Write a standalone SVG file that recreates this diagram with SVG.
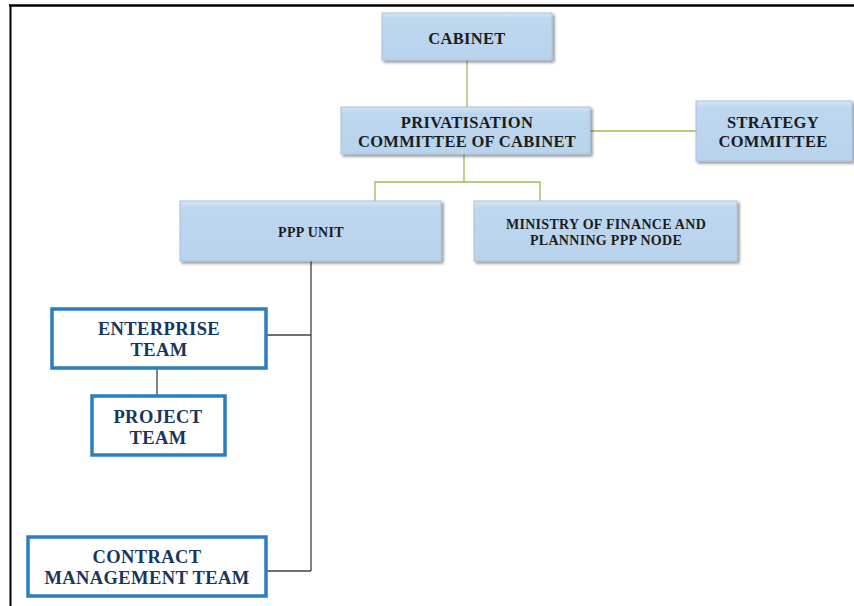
<svg xmlns="http://www.w3.org/2000/svg" width="854" height="606" viewBox="0 0 854 606">
<defs>
<linearGradient id="bg" x1="0" y1="0" x2="0" y2="1">
<stop offset="0" stop-color="#d6e6f6"/>
<stop offset="0.12" stop-color="#bdd7ef"/>
<stop offset="1" stop-color="#b8d3ec"/>
</linearGradient>
<filter id="sh" x="-10%" y="-10%" width="120%" height="130%">
<feGaussianBlur in="SourceAlpha" stdDeviation="1.5"/>
<feOffset dx="1.5" dy="2" result="o"/>
<feComponentTransfer><feFuncA type="linear" slope="0.45"/></feComponentTransfer>
<feMerge><feMergeNode/><feMergeNode in="SourceGraphic"/></feMerge>
</filter>
</defs>
<style>
.b{fill:url(#bg);stroke:#a7c2de;stroke-width:1;filter:url(#sh)}
.w{fill:#fff;stroke:#2a7dc0;stroke-width:3.5}
.t{font-family:"Liberation Serif",serif;font-weight:bold;fill:#1c1c1c;text-anchor:middle;letter-spacing:0.3px}
.n{font-family:"Liberation Serif",serif;font-weight:bold;fill:#17365d;text-anchor:middle;font-size:18.5px;letter-spacing:0.4px}
.g{stroke:#9bbb59;stroke-width:1.3;fill:none}
.k{stroke:#404040;stroke-width:1.3;fill:none}
</style>
<rect width="854" height="606" fill="#fff"/>
<g id="frame">
<line x1="9" y1="5.5" x2="854" y2="5.5" stroke="#000" stroke-width="2.5"/>
<line x1="10.5" y1="5" x2="10.5" y2="606" stroke="#000" stroke-width="2"/>
</g>
<g id="connectors">
<line class="g" x1="467" y1="60" x2="467" y2="107"/>
<line class="g" x1="590" y1="131" x2="696" y2="131"/>
<polyline class="g" points="464,154 464,182"/>
<polyline class="g" points="375,201 375,182 540,182 540,201"/>
<line class="k" x1="311" y1="261" x2="311" y2="571"/>
<line class="k" x1="266" y1="335" x2="311" y2="335"/>
<line class="k" x1="267" y1="571" x2="311" y2="571"/>
<line class="k" x1="157" y1="369" x2="157" y2="395"/>
</g>
<g id="cabinet">
<rect class="b" x="382" y="13" width="170" height="47"/>
<text class="t" x="467" y="43.5" font-size="16.5">CABINET</text>
</g>
<g id="privatisation">
<rect class="b" x="341" y="107" width="249" height="47"/>
<text class="t" x="467" y="127.5" font-size="16.5">PRIVATISATION</text>
<text class="t" x="467" y="146.5" font-size="16.5">COMMITTEE OF CABINET</text>
</g>
<g id="strategy">
<rect class="b" x="696" y="101" width="156" height="60"/>
<text class="t" x="773" y="127.5" font-size="16.5">STRATEGY</text>
<text class="t" x="773" y="146.5" font-size="16.5">COMMITTEE</text>
</g>
<g id="ppp-unit">
<rect class="b" x="180" y="201" width="261" height="60"/>
<text class="t" x="311" y="237" font-size="14">PPP UNIT</text>
</g>
<g id="ministry">
<rect class="b" x="474" y="201" width="263" height="60"/>
<text class="t" x="606" y="229" font-size="14">MINISTRY OF FINANCE AND</text>
<text class="t" x="606" y="245" font-size="14">PLANNING PPP NODE</text>
</g>
<g id="enterprise">
<rect class="w" x="52" y="309" width="214" height="59"/>
<text class="n" x="159" y="334.5">ENTERPRISE</text>
<text class="n" x="159" y="356">TEAM</text>
</g>
<g id="project">
<rect class="w" x="92" y="396" width="133" height="59"/>
<text class="n" x="158" y="422.5">PROJECT</text>
<text class="n" x="158" y="443.5">TEAM</text>
</g>
<g id="contract">
<rect class="w" x="28" y="537" width="238" height="59"/>
<text class="n" x="147" y="563">CONTRACT</text>
<text class="n" x="147" y="584">MANAGEMENT TEAM</text>
</g>
</svg>
